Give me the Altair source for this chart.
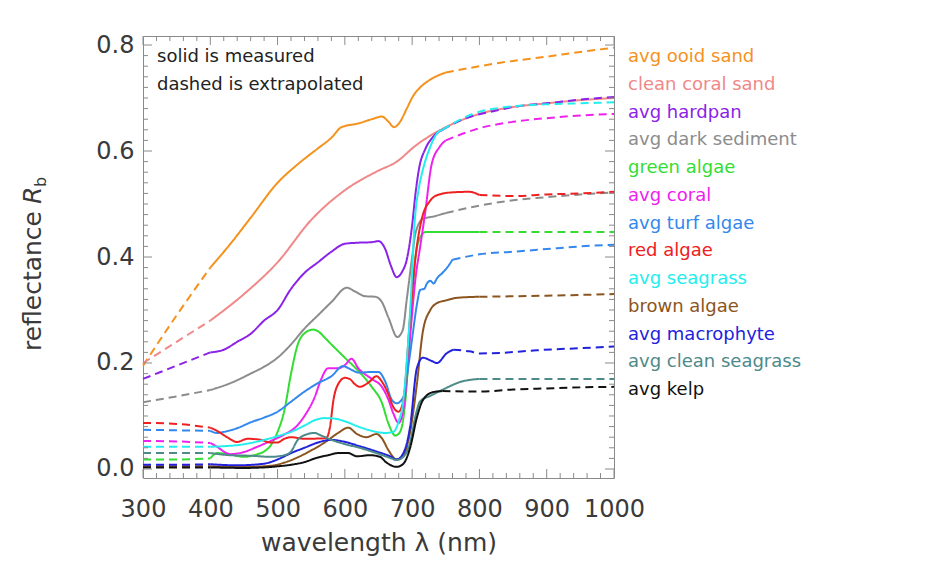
import altair as alt
import pandas as pd

FONT = "DejaVu Sans"
TXT = "#3a3a3a"
FRAME = "#8a8a8a"

NAMES = ["avg ooid sand", "clean coral sand", "avg hardpan", "avg dark sediment",
         "green algae", "avg coral", "avg turf algae", "red algae", "avg seagrass",
         "brown algae", "avg macrophyte", "avg clean seagrass", "avg kelp"]
COLORS = ["#F5921E", "#F08888", "#8B22E8", "#8C8C8C", "#33DD33", "#EE22EE", "#3388EE",
          "#EE2020", "#22EEEE", "#8C5520", "#2222DD", "#4D8A8A", "#111111"]

# (wavelength nm, reflectance); measured range per series given below
OOID_SAND = [(300, .195), (350, .29), (400, .38), (430, .425), (460, .474), (500, .54), (530, .575),
             (560, .605), (580, .625), (595, .645), (620, .652), (640, .66), (655, .665), (665, .655),
             (673, .645), (682, .655), (692, .68), (702, .705), (712, .72), (730, .737), (750, .748),
             (800, .76), (850, .77), (900, .778), (950, .787), (1000, .795)]
CORAL_SAND = [(300, .20), (350, .24), (400, .28), (450, .33), (500, .39), (550, .47), (600, .526),
              (650, .563), (676, .579), (706, .611), (750, .645), (800, .67), (850, .683), (900, .69),
              (950, .696), (1000, .70)]
HARDPAN = [(300, .17), (350, .195), (400, .22), (420, .225), (440, .24), (460, .255), (480, .28),
           (500, .30), (520, .34), (540, .37), (560, .39), (580, .41), (600, .425), (620, .427),
           (640, .428), (650, .43), (660, .415), (668, .385), (677, .362), (685, .372), (692, .395),
           (700, .46), (705, .52), (710, .565), (720, .605), (730, .625), (745, .64), (780, .662),
           (820, .675), (860, .685), (900, .69), (950, .697), (1000, .702)]
DARK_SEDIMENT = [(300, .126), (350, .137), (400, .149), (430, .162), (460, .18), (480, .193), (500, .21),
                 (520, .235), (540, .265), (560, .29), (580, .315), (603, .342), (615, .335), (630, .326),
                 (645, .325), (655, .315), (665, .285), (678, .249), (686, .262), (692, .32), (700, .40),
                 (705, .445), (716, .472), (730, .476), (750, .483), (800, .497), (850, .507), (900, .513),
                 (950, .518), (1000, .522)]
GREEN_ALGAE = [(300, .018), (350, .018), (400, .02), (410, .03), (430, .027), (450, .023), (470, .028),
               (480, .033), (490, .045), (500, .07), (510, .11), (520, .18), (530, .235), (540, .256),
               (553, .263), (560, .26), (570, .248), (580, .235), (600, .21), (620, .185), (640, .155),
               (655, .125), (665, .085), (675, .063), (682, .07), (690, .13), (695, .22), (700, .33),
               (705, .40), (712, .437), (720, .447), (800, .447), (900, .447), (1000, .447)]
CORAL = [(300, .053), (350, .052), (400, .049), (410, .042), (420, .033), (430, .028), (450, .032),
         (470, .042), (490, .053), (510, .065), (530, .083), (540, .10), (555, .135), (565, .17),
         (575, .19), (590, .19), (600, .196), (610, .208), (620, .19), (640, .17), (655, .155),
         (665, .13), (672, .105), (680, .087), (688, .12), (697, .25), (705, .36), (712, .42),
         (719, .48), (729, .575), (741, .608), (750, .62), (800, .643), (850, .655), (900, .662),
         (950, .667), (1000, .670)]
TURF_ALGAE = [(300, .074), (350, .073), (400, .072), (410, .068), (420, .07), (440, .077), (460, .088),
              (480, .097), (500, .108), (520, .127), (540, .146), (560, .162), (580, .175), (597, .194),
              (610, .187), (620, .182), (640, .183), (650, .183), (660, .165), (670, .13), (677, .124),
              (687, .136), (695, .2), (701, .256), (707, .31), (712, .338), (718, .34), (722, .35),
              (727, .355), (732, .35), (737, .36), (745, .37), (752, .38), (760, .395), (800, .405),
              (850, .41), (900, .415), (950, .42), (1000, .423)]
RED_ALGAE = [(300, .087), (350, .085), (400, .078), (410, .072), (425, .06), (440, .051), (455, .057),
             (475, .055), (490, .05), (500, .05), (510, .057), (520, .06), (540, .057), (572, .058),
             (578, .08), (583, .13), (590, .16), (600, .172), (607, .17), (615, .16), (622, .155),
             (635, .163), (647, .175), (655, .165), (665, .14), (672, .117), (680, .108), (687, .13),
             (697, .287), (705, .40), (714, .47), (726, .505), (740, .518), (760, .522), (785, .523),
             (800, .517), (850, .515), (900, .518), (950, .52), (1000, .523)]
SEAGRASS = [(300, .042), (350, .042), (400, .042), (420, .043), (440, .045), (460, .049), (480, .055),
            (500, .062), (520, .07), (540, .082), (555, .092), (570, .096), (585, .095), (600, .09),
            (620, .08), (640, .072), (660, .068), (672, .07), (680, .09), (687, .13), (693, .22),
            (698, .32), (704, .47), (710, .53), (716, .565), (726, .605), (739, .636), (745, .64),
            (790, .67), (840, .683), (900, .688), (950, .69), (1000, .692)]
BROWN_ALGAE = [(300, .005), (350, .005), (400, .005), (450, .004), (490, .006), (510, .012), (530, .022),
               (550, .035), (570, .05), (590, .068), (605, .078), (618, .066), (632, .06), (647, .066),
               (655, .058), (665, .035), (677, .018), (687, .025), (697, .07), (707, .16), (716, .26),
               (727, .3), (737, .313), (750, .318), (767, .323), (800, .325), (900, .327), (1000, .33)]
MACROPHYTE = [(300, .008), (350, .008), (400, .009), (440, .007), (480, .01), (500, .018), (520, .03),
              (540, .04), (560, .05), (580, .055), (597, .052), (622, .043), (647, .033), (667, .024),
              (677, .018), (687, .03), (697, .08), (707, .19), (716, .21), (727, .205), (737, .2),
              (751, .218), (761, .225), (785, .222), (801, .218), (830, .219), (885, .224), (950, .228),
              (1000, .231)]
CLEAN_SEAGRASS = [(300, .03), (350, .03), (400, .03), (430, .026), (460, .025), (490, .023), (510, .026),
                  (520, .033), (530, .055), (545, .066), (555, .068), (565, .063), (580, .055), (600, .047),
                  (622, .04), (647, .03), (667, .021), (677, .017), (687, .023), (697, .05), (705, .1),
                  (712, .128), (727, .138), (746, .15), (771, .164), (800, .17), (900, .17), (1000, .17)]
KELP = [(300, .003), (350, .003), (400, .003), (450, .002), (480, .003), (500, .005), (520, .008),
        (540, .013), (558, .021), (575, .026), (590, .03), (605, .03), (618, .024), (637, .026),
        (652, .023), (662, .012), (677, .004), (687, .01), (697, .04), (707, .097), (716, .13),
        (731, .145), (745, .147), (800, .146), (850, .15), (900, .152), (950, .154), (1000, .155)]

SPECTRA = [OOID_SAND, CORAL_SAND, HARDPAN, DARK_SEDIMENT, GREEN_ALGAE, CORAL, TURF_ALGAE,
           RED_ALGAE, SEAGRASS, BROWN_ALGAE, MACROPHYTE, CLEAN_SEAGRASS, KELP]
MEASURED = [(400, 750), (400, 1000), (400, 745), (400, 750), (400, 800), (400, 750), (400, 760),
            (400, 800), (400, 745), (400, 800), (400, 761), (400, 800), (400, 745)]

rows = []
for name, pts, (m0, m1) in zip(NAMES, SPECTRA, MEASURED):
    parts = [("L", "extrapolated", [p for p in pts if p[0] <= m0]),
             ("M", "measured", [p for p in pts if m0 <= p[0] <= m1]),
             ("R", "extrapolated", [p for p in pts if p[0] >= m1])]
    for tag, seg, sub in parts:
        if len(sub) < 2:
            continue
        for w, r in sub:
            rows.append({"name": name, "seg": seg, "key": name + "|" + tag, "wl": w, "r": r})
df = pd.DataFrame(rows)

W, H = 471, 442
xscale = alt.Scale(domain=[300, 1000], nice=False, zero=False)
yscale = alt.Scale(domain=[-0.017, 0.817], nice=False, zero=False)
cscale = alt.Scale(domain=NAMES, range=COLORS)

X_MAJOR = list(range(300, 1001, 100))
X_MINOR = [v for v in range(300, 1001, 20) if v % 100]
Y_MAJOR = [0.0, 0.2, 0.4, 0.6, 0.8]
Y_MINOR = [round(i * 0.02, 2) for i in range(0, 41) if i % 10]

lines = alt.Chart(df).mark_line(strokeWidth=2, interpolate="monotone").encode(
    x=alt.X("wl:Q", scale=xscale, axis=alt.Axis(
        values=X_MAJOR, format="d", ticks=False, domain=False, grid=False, labelFont=FONT,
        labelFontSize=24, labelColor=TXT, labelPadding=19, labelFlush=False, labelOverlap=False,
        title="wavelength λ (nm)", titleFont=FONT, titleFontSize=25, titleFontWeight="normal",
        titleColor=TXT, titlePadding=9)),
    y=alt.Y("r:Q", scale=yscale, axis=alt.Axis(
        values=Y_MAJOR, format=".1f", ticks=False, domain=False, grid=False, labelFont=FONT,
        labelFontSize=24, labelColor=TXT, labelPadding=9, labelFlush=False, labelOverlap=False,
        title=None)),
    color=alt.Color("name:N", scale=cscale, legend=None),
    strokeDash=alt.StrokeDash("seg:N", scale=alt.Scale(domain=["measured", "extrapolated"],
                                                        range=[[1, 0], [8, 5]]), legend=None),
    detail="key:N",
)


def xticks(vals, length):
    d = pd.DataFrame({"wl": vals})
    bottom = alt.Chart(d).mark_rule(color=FRAME, strokeWidth=1).encode(
        x=alt.X("wl:Q", scale=xscale), y=alt.value(H), y2=alt.value(H - length))
    top = alt.Chart(d).mark_rule(color=FRAME, strokeWidth=1).encode(
        x=alt.X("wl:Q", scale=xscale), y=alt.value(0), y2=alt.value(length))
    return [bottom, top]


def yticks(vals, length):
    d = pd.DataFrame({"r": vals})
    left = alt.Chart(d).mark_rule(color=FRAME, strokeWidth=1).encode(
        y=alt.Y("r:Q", scale=yscale, axis=None), x=alt.value(0), x2=alt.value(length))
    right = alt.Chart(d).mark_rule(color=FRAME, strokeWidth=1).encode(
        y=alt.Y("r:Q", scale=yscale, axis=None), x=alt.value(W), x2=alt.value(W - length))
    return [left, right]


ticks = xticks(X_MAJOR, 9) + xticks(X_MINOR, 5) + yticks(Y_MAJOR, 9) + yticks(Y_MINOR, 5)

legend = alt.Chart(pd.DataFrame({"name": NAMES})).mark_text(
    align="left", baseline="middle", font=FONT, fontSize=18).encode(
    x=alt.value(485),
    y=alt.Y("name:N", sort=NAMES, scale=alt.Scale(type="point", range=[21, 354], padding=0), axis=None),
    text="name:N",
    color=alt.Color("name:N", scale=cscale, legend=None),
)

note = alt.Chart(pd.DataFrame({"t": ["solid is measured\ndashed is extrapolated"]})).mark_text(
    align="left", baseline="middle", font=FONT, fontSize=18, color="#222222",
    lineBreak="\n", lineHeight=28).encode(
    x=alt.value(14), y=alt.value(21), text="t:N")

one = pd.DataFrame({"a": [0]})
ytitle1 = alt.Chart(one).mark_text(align="right", baseline="middle", angle=270, font=FONT,
                                   fontSize=25, color=TXT).encode(
    x=alt.value(-110), y=alt.value(175), text=alt.value("reflectance"))
ytitle2 = alt.Chart(one).mark_text(align="left", baseline="middle", angle=270, font=FONT,
                                   fontSize=25, fontStyle="italic", color=TXT).encode(
    x=alt.value(-110), y=alt.value(168), text=alt.value("R"))
ytitle3 = alt.Chart(one).mark_text(align="left", baseline="middle", angle=270, font=FONT,
                                   fontSize=16, color=TXT).encode(
    x=alt.value(-102), y=alt.value(151), text=alt.value("b"))

chart = alt.layer(lines, *ticks, legend, note, ytitle1, ytitle2, ytitle3).resolve_scale(
    y="independent"
).properties(
    width=W, height=H,
    autosize=alt.AutoSizeParams(type="none"),
    padding={"left": 143, "top": 36, "right": 327, "bottom": 87},
    background="white",
).configure_view(stroke=FRAME, strokeWidth=1)

chart.save("out.html", embed_options={"renderer": "svg", "actions": False})
